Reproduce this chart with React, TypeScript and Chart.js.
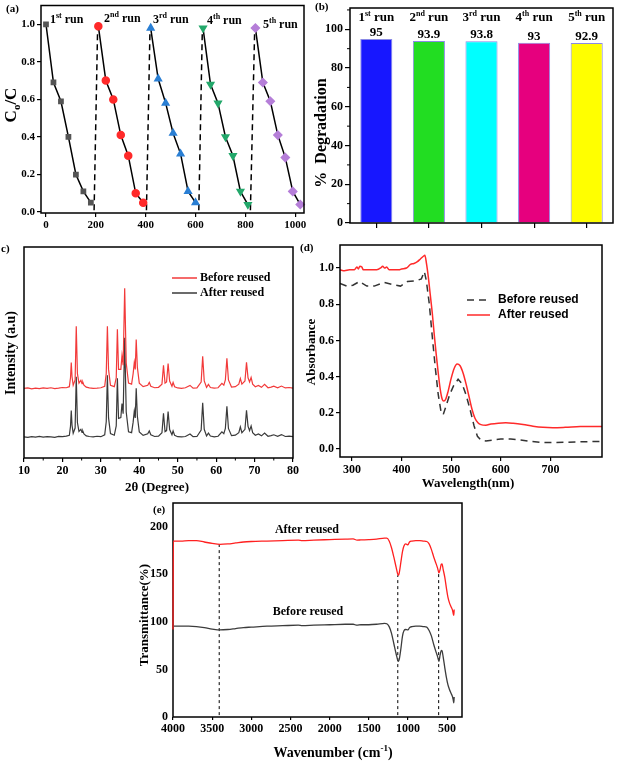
import React, { useEffect, useRef } from 'react';
import { Chart, registerables } from 'chart.js';

Chart.register(...registerables);

const SERIF = '"Liberation Serif", "Times New Roman", serif';
const SANS = '"Liberation Sans", Arial, sans-serif';

// ---------- (a) cycling runs: time (min) vs C0/C ----------
const time1 = [0, 30, 60, 90, 120, 150, 180];
const time2 = [210, 240, 270, 300, 330, 360, 390];
const time3 = [420, 450, 480, 510, 540, 570, 600];
const time4 = [630, 660, 690, 720, 750, 780, 810];
const time5 = [840, 870, 900, 930, 960, 990, 1020];
const ratio1 = [1.0, 0.69, 0.59, 0.4, 0.2, 0.11, 0.05];
const ratio2 = [0.99, 0.7, 0.6, 0.41, 0.3, 0.1, 0.05];
const ratio3 = [0.98, 0.71, 0.58, 0.42, 0.31, 0.11, 0.05];
const ratio4 = [0.98, 0.68, 0.58, 0.4, 0.3, 0.11, 0.04];
const ratio5 = [0.98, 0.69, 0.59, 0.41, 0.29, 0.11, 0.04];
const gapTimeStart = [193, 403, 613, 820];
const gapTimeEnd = [207, 417, 627, 837];
const gapRatioStart = [0.01, 0.01, 0.01, 0.01];
const gapRatioEnd = [0.97, 0.96, 0.96, 0.96];
const runNumbers = ['1', '2', '3', '4', '5'];
const runSuffixes = ['st', 'nd', 'rd', 'th', 'th'];
const aTimeTicks = [0, 200, 400, 600, 800, 1000];
const aRatioTicks = [0, 0.2, 0.4, 0.6, 0.8, 1.0];

// ---------- (b) degradation ----------
const runCategories = ['1st run', '2nd run', '3rd run', '4th run', '5th run'];
const degradation = [95, 93.9, 93.8, 93, 92.9];
const bPercentTicks = [0, 20, 40, 60, 80, 100];

// ---------- (c) XRD ----------
const xrdAngle = [10, 11, 12, 13, 14, 15, 16, 17, 18, 19, 20, 21, 21.8, 22.1, 22.3, 22.5, 22.8, 23.3, 23.6, 23.9, 24.3, 24.8, 25.1, 25.3, 25.6, 26.2, 27, 28, 29, 30, 31, 31.4, 31.7, 32.0, 32.5, 33.5, 34.0, 34.3, 34.6, 35.2, 35.5, 35.8, 36.2, 36.6, 37.2, 38.0, 38.4, 38.7, 38.95, 39.2, 39.5, 40.0, 41, 42.2, 42.6, 43.0, 44, 45, 45.9, 46.3, 46.7, 47.1, 47.5, 47.9, 48.5, 48.8, 49.2, 50, 51, 52, 53.2, 54, 55, 56.1, 56.5, 56.9, 57.5, 58.0, 58.5, 59.5, 60.5, 61.5, 62.0, 62.4, 62.8, 63.2, 64, 65, 65.9, 66.3, 66.7, 67.5, 67.9, 68.3, 68.7, 69.1, 69.5, 70.2, 71.0, 71.8, 72.6, 73.5, 74.3, 75, 76, 77, 78, 79, 80];
const xrdBefore = [330, 332, 328, 331, 329, 332, 330, 333, 329, 331, 334, 333, 338, 380, 453, 385, 345, 370, 624, 400, 355, 368, 352, 360, 345, 336, 332, 330, 331, 333, 340, 400, 624, 420, 345, 338, 380, 610, 420, 420, 486, 440, 804, 450, 355, 350, 400, 453, 420, 562, 430, 355, 338, 345, 358, 340, 333, 335, 350, 439, 355, 360, 448, 365, 340, 358, 338, 332, 330, 333, 344, 331, 332, 360, 482, 365, 335, 349, 334, 331, 333, 354, 345, 370, 472, 370, 336, 338, 350, 377, 350, 365, 453, 380, 360, 382, 350, 338, 344, 335, 349, 333, 336, 340, 333, 341, 332, 334, 331];
const xrdAfter = [100, 98, 101, 99, 102, 99, 101, 100, 98, 102, 101, 104, 108, 150, 225, 155, 117, 142, 385, 168, 126, 136, 121, 128, 114, 105, 102, 100, 103, 101, 110, 172, 392, 190, 116, 108, 152, 378, 188, 192, 258, 210, 570, 218, 124, 120, 170, 222, 190, 330, 198, 124, 107, 115, 128, 110, 102, 104, 120, 212, 125, 130, 220, 135, 110, 128, 107, 101, 100, 102, 114, 101, 102, 132, 262, 136, 105, 118, 104, 100, 103, 124, 115, 140, 245, 140, 106, 108, 120, 148, 120, 136, 226, 150, 130, 152, 120, 108, 114, 105, 118, 103, 106, 110, 103, 111, 102, 104, 101];
const cAngleTicks = [10, 20, 30, 40, 50, 60, 70, 80];

// ---------- (d) UV-vis ----------
const wlAfter = [276, 285, 295, 305, 310, 313, 316, 320, 323, 330, 340, 350, 358, 362, 366, 370, 375, 385, 395, 400, 410, 418, 425, 432, 438, 444, 447, 450, 454, 458, 462, 466, 470, 474, 478, 482, 485, 489, 494, 500, 506, 512, 518, 524, 530, 536, 542, 548, 554, 560, 570, 580, 595, 610, 625, 645, 665, 685, 705, 730, 760, 804];
const absAfter = [0.99, 0.985, 0.99, 0.99, 1.005, 0.995, 1.01, 1.005, 0.99, 0.99, 0.99, 0.99, 1.0, 1.01, 1.0, 1.005, 0.99, 0.99, 0.99, 0.995, 1.0, 1.02, 1.025, 1.035, 1.05, 1.065, 1.07, 1.03, 0.95, 0.85, 0.75, 0.63, 0.52, 0.42, 0.33, 0.275, 0.265, 0.275, 0.32, 0.39, 0.445, 0.47, 0.46, 0.42, 0.36, 0.29, 0.22, 0.17, 0.145, 0.135, 0.132, 0.138, 0.143, 0.145, 0.142, 0.135, 0.126, 0.12, 0.118, 0.12, 0.124, 0.125];
const wlBefore = [276, 290, 302, 315, 330, 345, 365, 380, 398, 412, 430, 440, 446, 450, 456, 462, 468, 474, 480, 484, 490, 497, 505, 514, 522, 530, 538, 546, 553, 560, 570, 585, 600, 620, 640, 660, 680, 700, 730, 760, 804];
const absBefore = [0.915, 0.9, 0.905, 0.925, 0.9, 0.9, 0.92, 0.91, 0.9, 0.925, 0.93, 0.94, 0.98, 0.93, 0.8, 0.62, 0.45, 0.3, 0.2, 0.19, 0.24, 0.3, 0.35, 0.385, 0.36, 0.3, 0.22, 0.13, 0.07, 0.05, 0.045, 0.05, 0.055, 0.055, 0.05, 0.042, 0.037, 0.036, 0.037, 0.04, 0.042];
const dWaveTicks = [300, 400, 500, 600, 700];
const dAbsTicks = [0, 0.2, 0.4, 0.6, 0.8, 1.0];

// ---------- (e) FTIR ----------
const wavenumberAfter = [4000, 3995, 3900, 3800, 3700, 3600, 3500, 3400, 3300, 3200, 3100, 3000, 2800, 2600, 2400, 2350, 2200, 2000, 1800, 1700, 1650, 1600, 1500, 1400, 1300, 1270, 1240, 1210, 1180, 1150, 1130, 1120, 1110, 1090, 1070, 1050, 1030, 1000, 980, 950, 900, 850, 800, 760, 730, 700, 670, 640, 620, 605, 590, 575, 565, 550, 530, 510, 490, 470, 450, 430, 420, 415, 410];
const transAfter = [92, 185, 185, 185.5, 185.5, 184, 182.5, 181.5, 182, 183, 184, 184.5, 185, 185.5, 186, 185.5, 186, 186.5, 187, 187.2, 186, 186.2, 186.5, 187, 188, 188, 185, 178, 168, 157, 150, 149, 152, 163, 174, 180, 182, 181, 184, 185, 185.5, 185.5, 185, 184.5, 182, 176, 168, 161, 156, 151.5, 155, 160.5, 161, 155, 147, 136, 126, 120, 116, 112, 108, 107, 113];
const wavenumberBefore = [4000, 3900, 3800, 3700, 3600, 3500, 3400, 3300, 3200, 3100, 3000, 2800, 2600, 2400, 2350, 2200, 2000, 1800, 1700, 1650, 1600, 1500, 1400, 1300, 1270, 1240, 1210, 1180, 1150, 1130, 1120, 1110, 1090, 1070, 1050, 1030, 1000, 980, 950, 900, 850, 800, 760, 730, 700, 670, 640, 620, 605, 590, 575, 565, 550, 530, 510, 490, 470, 450, 430, 420, 415, 410];
const transBefore = [95.5, 95.5, 95.5, 95, 94, 92.5, 91.5, 92, 93, 94, 94.5, 95.5, 96, 96.5, 96, 96.5, 97, 97.5, 97.5, 96.5, 97, 97, 97.5, 98.5, 98, 95, 88, 77, 66, 59.5, 58.5, 61, 72, 85, 91, 92, 91.5, 94, 95, 95.5, 95.5, 95, 94.5, 91, 85, 76, 68, 63, 58.5, 65, 70, 69.5, 63, 52, 42, 34, 29, 25, 21, 17, 15, 21];
const guideWave = [3410, 1130, 608];
const guideTop = [181.5, 149, 151];
const guideBottom = [2, 2, 2];
const eWaveTicks = [4000, 3500, 3000, 2500, 2000, 1500, 1000, 500];
const eTransTicks = [0, 50, 100, 150, 200];

// ---------- helpers ----------
type Part = { t: string; sup?: boolean; sub?: boolean };

function partFont(p: Part, size: number, family: string) {
  const s = p.sup || p.sub ? Math.round(size * 0.65) : size;
  return `bold ${s}px ${family}`;
}
function richWidth(ctx: CanvasRenderingContext2D, parts: Part[], size: number, family: string) {
  let w = 0;
  for (const p of parts) {
    ctx.font = partFont(p, size, family);
    w += ctx.measureText(p.t).width;
  }
  return w;
}
function drawRich(ctx: CanvasRenderingContext2D, parts: Part[], x: number, y: number, size: number, align: 'left' | 'center' = 'left', family = SERIF, color = '#000') {
  const total = richWidth(ctx, parts, size, family);
  let cx = align === 'center' ? x - total / 2 : x;
  ctx.save();
  ctx.fillStyle = color;
  ctx.textAlign = 'left';
  ctx.textBaseline = 'alphabetic';
  for (const p of parts) {
    ctx.font = partFont(p, size, family);
    const dy = p.sup ? -size * 0.4 : p.sub ? size * 0.25 : 0;
    ctx.fillText(p.t, cx, y + dy);
    cx += ctx.measureText(p.t).width;
  }
  ctx.restore();
}
function drawRotated(ctx: CanvasRenderingContext2D, parts: Part[], cx: number, cy: number, size: number, family = SERIF) {
  ctx.save();
  ctx.translate(cx, cy);
  ctx.rotate(-Math.PI / 2);
  drawRich(ctx, parts, 0, size * 0.35, size, 'center', family);
  ctx.restore();
}
function drawFrame(chart: any) {
  const { ctx, chartArea: a } = chart;
  ctx.save();
  ctx.strokeStyle = '#000';
  ctx.lineWidth = 1.5;
  ctx.strokeRect(a.left, a.top, a.right - a.left, a.bottom - a.top);
  ctx.restore();
}
function minorTicksY(chart: any, values: number[], len: number) {
  const { ctx, chartArea: a, scales } = chart;
  ctx.save();
  ctx.strokeStyle = '#000';
  ctx.lineWidth = 1;
  for (const v of values) {
    const y = scales.y.getPixelForValue(v);
    ctx.beginPath();
    ctx.moveTo(a.left, y);
    ctx.lineTo(a.left - len, y);
    ctx.stroke();
  }
  ctx.restore();
}
function minorTicksX(chart: any, values: number[], len: number) {
  const { ctx, chartArea: a, scales } = chart;
  ctx.save();
  ctx.strokeStyle = '#000';
  ctx.lineWidth = 1;
  for (const v of values) {
    const x = scales.x.getPixelForValue(v);
    ctx.beginPath();
    ctx.moveTo(x, a.bottom);
    ctx.lineTo(x, a.bottom + len);
    ctx.stroke();
  }
  ctx.restore();
}
function legendLine(ctx: CanvasRenderingContext2D, x1: number, x2: number, y: number, color: string, dash: number[], width = 1.5) {
  ctx.save();
  ctx.strokeStyle = color;
  ctx.lineWidth = width;
  ctx.setLineDash(dash);
  ctx.beginPath();
  ctx.moveTo(x1, y);
  ctx.lineTo(x2, y);
  ctx.stroke();
  ctx.restore();
}
function plainText(ctx: CanvasRenderingContext2D, text: string, x: number, y: number, size: number, family: string, align: CanvasTextAlign = 'left', baseline: CanvasTextBaseline = 'middle') {
  ctx.save();
  ctx.fillStyle = '#000';
  ctx.font = `bold ${size}px ${family}`;
  ctx.textAlign = align;
  ctx.textBaseline = baseline;
  ctx.fillText(text, x, y);
  ctx.restore();
}

const fitY = (w: number) => (s: any) => {
  s.width = w;
  s.paddingTop = 0; s.paddingBottom = 0; s.paddingLeft = 0; s.paddingRight = 0;
};
const fitX = (h: number) => (s: any) => {
  s.height = h;
  s.paddingTop = 0; s.paddingBottom = 0; s.paddingLeft = 0; s.paddingRight = 0;
};
const fixedTicks = (values: number[]) => (s: any) => {
  s.ticks = values.map((v) => ({ value: v }));
};
const tickFont = (size: number) => ({ family: SERIF, weight: 'bold' as const, size });
const tickOpts = (size: number, padding: number, fmt: (v: number) => string) => ({
  font: tickFont(size), color: '#000', padding, autoSkip: false, maxRotation: 0, minRotation: 0,
  callback: (v: any) => fmt(Number(v)),
});
const tickGrid = (len: number) => ({ display: true, drawOnChartArea: false, drawTicks: true, tickLength: len, color: '#000', lineWidth: 1.2 });
const baseOptions = {
  responsive: false,
  animation: false as const,
  events: [] as any[],
  plugins: { legend: { display: false }, tooltip: { enabled: false } },
};
const intFmt = (v: number) => String(Math.round(v));
const oneDec = (v: number) => v.toFixed(1);

// ---------- chart configs (ox, oy = canvas position on page) ----------
function configA(ox: number, oy: number): any {
  const times = [time1, time2, time3, time4, time5];
  const ratios = [ratio1, ratio2, ratio3, ratio4, ratio5];
  const colors = ['#555555', '#ff2a2a', '#2a7fd4', '#23a86b', '#b57ed8'];
  const styles = ['rect', 'circle', 'triangle', 'triangle', 'rectRot'];
  const rotations = [0, 0, 0, 180, 0];
  const radii = [3, 3.5, 3.8, 3.8, 4];
  const runSets = times.map((t, k) => ({
    data: t.map((x, i) => ({ x, y: ratios[k][i] })),
    borderColor: '#000',
    borderWidth: 1.5,
    pointBackgroundColor: colors[k],
    pointBorderColor: colors[k],
    pointStyle: styles[k],
    pointRotation: rotations[k],
    pointRadius: radii[k],
    tension: 0,
    clip: false,
  }));
  const gapSets = gapTimeStart.map((x, i) => ({
    data: [{ x, y: gapRatioStart[i] }, { x: gapTimeEnd[i], y: gapRatioEnd[i] }],
    borderColor: '#000',
    borderWidth: 1.5,
    borderDash: [6, 4],
    pointRadius: 0,
  }));
  const labelPos = [[50, 23], [104, 22], [153, 23], [207, 24], [263, 28]];
  return {
    type: 'line',
    data: { datasets: [...runSets, ...gapSets] },
    options: {
      ...baseOptions,
      layout: { padding: { top: 4, right: 6, left: 0, bottom: 0 } },
      scales: {
        x: {
          type: 'linear', min: -20, max: 1035,
          ticks: tickOpts(11, 2, intFmt), afterBuildTicks: fixedTicks(aTimeTicks),
          grid: tickGrid(4), border: { display: false }, afterFit: fitX(27),
        },
        y: {
          type: 'linear', min: -0.005, max: 1.1,
          ticks: tickOpts(11, 2, oneDec), afterBuildTicks: fixedTicks(aRatioTicks),
          grid: tickGrid(4), border: { display: false }, afterFit: fitY(41),
        },
      },
    },
    plugins: [{
      id: 'decorA',
      afterDraw(chart: any) {
        const ctx = chart.ctx;
        drawFrame(chart);
        runNumbers.forEach((n, i) => {
          drawRich(ctx, [{ t: n }, { t: runSuffixes[i], sup: true }, { t: ' run' }], labelPos[i][0] - ox, labelPos[i][1] - oy, 12);
        });
        drawRotated(ctx, [{ t: 'C' }, { t: 'o', sub: true }, { t: '/C' }], 10 - ox, 105 - oy, 17);
        drawRich(ctx, [{ t: '(a)' }], 6 - ox, 12 - oy, 11);
      },
    }],
  };
}

function configB(ox: number, oy: number): any {
  const barColors = ['#1717ff', '#22dd22', '#00ffff', '#e6007e', '#ffff00'];
  return {
    type: 'bar',
    data: {
      labels: runCategories,
      datasets: [{
        data: degradation,
        backgroundColor: barColors,
        borderColor: '#8a8ae6',
        borderWidth: 1,
        categoryPercentage: 1,
        barPercentage: 0.61,
      }],
    },
    options: {
      ...baseOptions,
      layout: { padding: { top: 8, right: 7, left: 0, bottom: 0 } },
      scales: {
        x: {
          ticks: { display: false },
          grid: { ...tickGrid(5), offset: false }, border: { display: false }, afterFit: fitX(17),
        },
        y: {
          type: 'linear', min: 0, max: 111,
          ticks: tickOpts(12, 2, intFmt), afterBuildTicks: fixedTicks(bPercentTicks),
          grid: tickGrid(5), border: { display: false }, afterFit: fitY(50),
        },
      },
    },
    plugins: [{
      id: 'decorB',
      afterDraw(chart: any) {
        const ctx = chart.ctx;
        drawFrame(chart);
        minorTicksY(chart, [10, 30, 50, 70, 90, 110], 3);
        const bars = chart.getDatasetMeta(0).data;
        bars.forEach((bar: any, i: number) => {
          drawRich(ctx, [{ t: String(degradation[i]) }], bar.x, bar.y - 3, 13, 'center');
          drawRich(ctx, [{ t: runNumbers[i] }, { t: runSuffixes[i], sup: true }, { t: ' run' }], bar.x, 21 - oy, 13, 'center');
        });
        drawRotated(ctx, [{ t: '%  Degradation' }], 320 - ox, 133 - oy, 16);
        drawRich(ctx, [{ t: '(b)' }], 315 - ox, 10 - oy, 11);
      },
    }],
  };
}

function configC(ox: number, oy: number): any {
  return {
    type: 'line',
    data: {
      datasets: [
        { data: xrdAngle.map((x, i) => ({ x, y: xrdBefore[i] })), borderColor: '#f23a3a', borderWidth: 1.2, pointRadius: 0, tension: 0 },
        { data: xrdAngle.map((x, i) => ({ x, y: xrdAfter[i] })), borderColor: '#3a3a3a', borderWidth: 1.2, pointRadius: 0, tension: 0 },
      ],
    },
    options: {
      ...baseOptions,
      layout: { padding: { top: 7, right: 17, left: 24, bottom: 0 } },
      scales: {
        x: {
          type: 'linear', min: 10, max: 80,
          ticks: tickOpts(12, 2, intFmt), afterBuildTicks: fixedTicks(cAngleTicks),
          grid: tickGrid(4), border: { display: false }, afterFit: fitX(37),
        },
        y: { type: 'linear', min: 0, max: 1000, display: false },
      },
    },
    plugins: [{
      id: 'decorC',
      afterDraw(chart: any) {
        const ctx = chart.ctx;
        drawFrame(chart);
        minorTicksX(chart, [15, 25, 35, 45, 55, 65, 75], 2.5);
        legendLine(ctx, 172 - ox, 197 - ox, 278 - oy, '#f23a3a', [], 1.5);
        legendLine(ctx, 172 - ox, 197 - ox, 293 - oy, '#3a3a3a', [], 1.5);
        plainText(ctx, 'Before reused', 200 - ox, 278 - oy, 12, SERIF);
        plainText(ctx, 'After reused', 200 - ox, 293 - oy, 12, SERIF);
        drawRotated(ctx, [{ t: 'Intensity (a.u)' }], 10 - ox, 353 - oy, 14);
        drawRich(ctx, [{ t: '2θ (Degree)' }], 157 - ox, 491 - oy, 13, 'center');
        drawRich(ctx, [{ t: 'c)' }], 1 - ox, 252 - oy, 11);
      },
    }],
  };
}

function configD(ox: number, oy: number): any {
  return {
    type: 'line',
    data: {
      datasets: [
        { data: wlAfter.map((x, i) => ({ x, y: absAfter[i] })), borderColor: '#ff2a2a', borderWidth: 1.5, pointRadius: 0, tension: 0.4, cubicInterpolationMode: 'monotone' },
        { data: wlBefore.map((x, i) => ({ x, y: absBefore[i] })), borderColor: '#333333', borderWidth: 1.5, borderDash: [7, 5], pointRadius: 0, tension: 0 },
      ],
    },
    options: {
      ...baseOptions,
      layout: { padding: { top: 5, right: 18, left: 0, bottom: 0 } },
      scales: {
        x: {
          type: 'linear', min: 276, max: 804,
          ticks: tickOpts(12, 2, intFmt), afterBuildTicks: fixedTicks(dWaveTicks),
          grid: tickGrid(4), border: { display: false }, afterFit: fitX(38),
        },
        y: {
          type: 'linear', min: -0.044, max: 1.127,
          ticks: tickOpts(12, 2, oneDec), afterBuildTicks: fixedTicks(dAbsTicks),
          grid: tickGrid(4), border: { display: false }, afterFit: fitY(40),
        },
      },
    },
    plugins: [{
      id: 'decorD',
      afterDraw(chart: any) {
        const ctx = chart.ctx;
        drawFrame(chart);
        legendLine(ctx, 467 - ox, 490 - ox, 300 - oy, '#333333', [7, 5], 1.5);
        legendLine(ctx, 467 - ox, 490 - ox, 315 - oy, '#ff2a2a', [], 1.5);
        plainText(ctx, 'Before reused', 498 - ox, 300 - oy, 12, SANS);
        plainText(ctx, 'After reused', 498 - ox, 315 - oy, 12, SANS);
        drawRotated(ctx, [{ t: 'Absorbance' }], 310 - ox, 352 - oy, 13);
        drawRich(ctx, [{ t: 'Wavelength(nm)' }], 468 - ox, 487 - oy, 13, 'center');
        drawRich(ctx, [{ t: '(d)' }], 300 - ox, 251 - oy, 11);
      },
    }],
  };
}

function configE(ox: number, oy: number): any {
  const guideSets = guideWave.map((x, i) => ({
    data: [{ x, y: guideBottom[i] }, { x, y: guideTop[i] }],
    borderColor: '#000', borderWidth: 1, borderDash: [3, 3], pointRadius: 0,
  }));
  return {
    type: 'line',
    data: {
      datasets: [
        { data: wavenumberAfter.map((x, i) => ({ x, y: transAfter[i] })), borderColor: '#ff2020', borderWidth: 1.3, pointRadius: 0, tension: 0.3, cubicInterpolationMode: 'monotone', clip: false },
        { data: wavenumberBefore.map((x, i) => ({ x, y: transBefore[i] })), borderColor: '#3c3c3c', borderWidth: 1.3, pointRadius: 0, tension: 0.3, cubicInterpolationMode: 'monotone' },
        ...guideSets,
      ],
    },
    options: {
      ...baseOptions,
      layout: { padding: { top: 8, right: 28, left: 0, bottom: 0 } },
      scales: {
        x: {
          type: 'linear', min: 310, max: 4000, reverse: true,
          ticks: tickOpts(12, 2, intFmt), afterBuildTicks: fixedTicks(eWaveTicks),
          grid: tickGrid(3), border: { display: false }, afterFit: fitX(45),
        },
        y: {
          type: 'linear', min: 0, max: 225,
          ticks: tickOpts(12, 5, intFmt), afterBuildTicks: fixedTicks(eTransTicks),
          grid: { display: false, drawTicks: false }, border: { display: false }, afterFit: fitY(83),
        },
      },
    },
    plugins: [{
      id: 'decorE',
      beforeDatasetsDraw(chart: any) {
        drawFrame(chart);
      },
      afterDraw(chart: any) {
        const ctx = chart.ctx;
        plainText(ctx, 'After reused', 307 - ox, 530 - oy, 12, SERIF, 'center');
        plainText(ctx, 'Before reused', 308 - ox, 612 - oy, 12, SERIF, 'center');
        drawRotated(ctx, [{ t: 'Transmittance(%)' }], 143 - ox, 615 - oy, 13);
        drawRich(ctx, [{ t: 'Wavenumber (cm' }, { t: '-1', sup: true }, { t: ')' }], 333 - ox, 757 - oy, 14, 'center');
        drawRich(ctx, [{ t: '(e)' }], 153 - ox, 513 - oy, 11);
      },
    }],
  };
}

function ChartPanel({ left, top, width, height, make }: { left: number; top: number; width: number; height: number; make: (ox: number, oy: number) => any }) {
  const ref = useRef<HTMLCanvasElement | null>(null);
  useEffect(() => {
    if (!ref.current) return;
    const chart = new Chart(ref.current, make(left, top));
    return () => chart.destroy();
  }, []);
  return (
    <canvas
      ref={ref}
      width={width}
      height={height}
      style={{ position: 'absolute', left, top, width, height }}
    />
  );
}

export default function App() {
  return (
    <div style={{ position: 'absolute', left: 0, top: 0, width: 620, height: 762, background: '#fff', overflow: 'hidden' }}>
      <ChartPanel left={0} top={0} width={310} height={240} make={configA} />
      <ChartPanel left={300} top={0} width={320} height={240} make={configB} />
      <ChartPanel left={0} top={240} width={310} height={255} make={configC} />
      <ChartPanel left={300} top={240} width={320} height={255} make={configD} />
      <ChartPanel left={90} top={495} width={400} height={267} make={configE} />
    </div>
  );
}
